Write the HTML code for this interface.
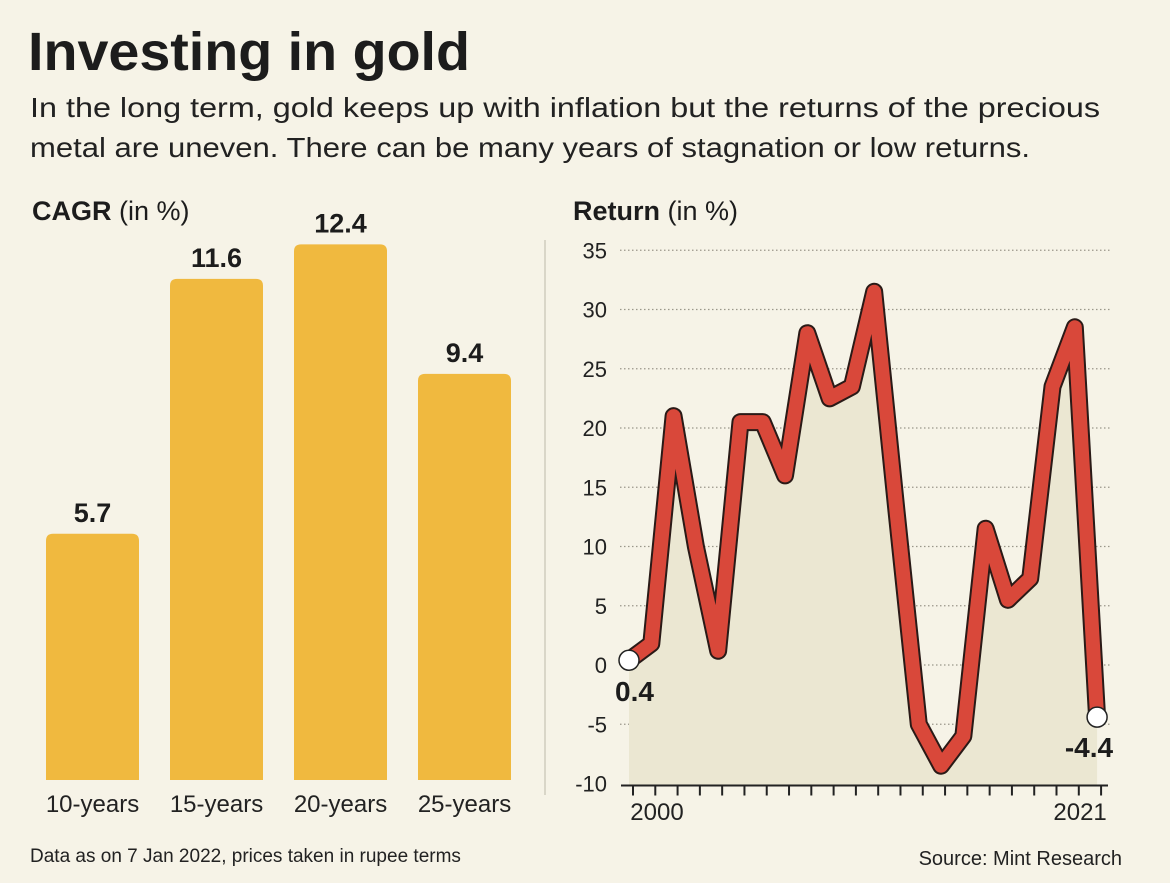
<!DOCTYPE html>
<html><head><meta charset="utf-8"><style>
html,body{margin:0;padding:0;background:#f6f3e7;}
svg{display:block;font-family:"Liberation Sans",sans-serif;}
</style></head><body>
<svg id="chart" width="1170" height="883" viewBox="0 0 1170 883" xmlns="http://www.w3.org/2000/svg">
<rect x="0" y="0" width="1170" height="883" fill="#f6f3e7"/>
<text x="28" y="70" font-size="54" font-weight="bold" fill="#1c1c1c" textLength="442" lengthAdjust="spacingAndGlyphs">Investing in gold</text>
<text x="30" y="117" font-size="28" fill="#222" textLength="1070" lengthAdjust="spacingAndGlyphs">In the long term, gold keeps up with inflation but the returns of the precious</text>
<text x="30" y="157" font-size="28" fill="#222" textLength="1000" lengthAdjust="spacingAndGlyphs">metal are uneven. There can be many years of stagnation or low returns.</text>
<text x="32" y="220" font-size="27" fill="#1c1c1c"><tspan font-weight="bold">CAGR</tspan> (in %)</text>
<text x="573" y="220" font-size="27" fill="#1c1c1c"><tspan font-weight="bold">Return</tspan> (in %)</text>
<line x1="545" y1="240" x2="545" y2="795" stroke="#d9d6c8" stroke-width="2"/>
<g id="bars"></g>
<g id="line"></g>
<text x="30" y="862" font-size="19" fill="#222">Data as on 7 Jan 2022, prices taken in rupee terms</text>
<text x="1122" y="865" font-size="20" fill="#222" text-anchor="end">Source: Mint Research</text>
</svg>
<script>
const barCats = ["10-years","15-years","20-years","25-years"];
const barVals = [5.7, 11.6, 12.4, 9.4];
const years = [2000,2001,2002,2003,2004,2005,2006,2007,2008,2009,2010,2011,2012,2013,2014,2015,2016,2017,2018,2019,2020,2021];
const returns = [0.4,1.8,21,10,1.2,20.5,20.5,16,28,22.5,23.5,31.5,13,-5,-8.5,-6,11.5,5.5,7.3,23.5,28.5,-4.4];
const yTicks = [35,30,25,20,15,10,5,0,-5,-10];
const xLabelYears = [2000,2021];

const NS="http://www.w3.org/2000/svg";
function mk(tag, attrs, parent, text){const e=document.createElementNS(NS,tag);for(const k in attrs)e.setAttribute(k,attrs[k]);if(text!==undefined)e.textContent=text;parent.appendChild(e);return e;}

// bar chart
const bg=document.getElementById('bars');
const barBase=780, barScale=43.2, barW=93, barX0=46, barStep=124;
const bx=i=>barX0+i*barStep;
const by=v=>barBase-v*barScale;
barCats.forEach((c,i)=>{
  const r=mk('path',{d:`M${bx(i)},${barBase} V${by(barVals[i])+7} Q${bx(i)},${by(barVals[i])} ${bx(i)+7},${by(barVals[i])} H${bx(i)+barW-7} Q${bx(i)+barW},${by(barVals[i])} ${bx(i)+barW},${by(barVals[i])+7} V${barBase} Z`,fill:'#f0b93f'},bg);
  
  
  const t=mk('text',{x:bx(i)+barW/2,y:by(barVals[i])-12,'font-size':27,'font-weight':'bold','text-anchor':'middle',fill:'#1c1c1c'},bg,barVals[i].toFixed(1));
  
  
  const l=mk('text',{x:bx(i)+barW/2,y:812,'font-size':24,'text-anchor':'middle',fill:'#222'},bg,c);
  
  
});

// line chart
const lg=document.getElementById('line');
const X0=629, XS=22.29, Y0=665, YS=11.85;
const lx=yr=>X0+(yr-years[0])*XS;
const ly=v=>Y0-v*YS;
const axisY=ly(-10)+2;
yTicks.forEach(v=>{
  if(v>-10){const g=mk('line',{x1:620,x2:1110,y1:ly(v),y2:ly(v),stroke:'#9a978a','stroke-width':1.2,'stroke-dasharray':'1.5 2.5'},lg);
  
  }
  const t=mk('text',{x:607,y:ly(v)+8,'font-size':22,'text-anchor':'end',fill:'#222'},lg,String(v));
  
  
});
let area=`M${lx(years[0])},${axisY}`;
years.forEach((y,i)=>area+=` L${lx(y)},${ly(returns[i])}`);
area+=` L${lx(years[years.length-1])},${axisY} Z`;
const a=mk('path',{d:area,fill:'#ebe7d2'},lg);


const ax=mk('line',{x1:621,x2:1108,y1:axisY,y2:axisY,stroke:'#222','stroke-width':2},lg);


years.forEach(y=>{
  const tk=mk('line',{x1:lx(y)+4,x2:lx(y)+4,y1:axisY,y2:axisY+10,stroke:'#222','stroke-width':2},lg);
  
  
});
xLabelYears.forEach(y=>{
  const t=mk('text',{x:lx(y)+(y===years[0]?28:-17),y:820,'font-size':24,'text-anchor':'middle',fill:'#222'},lg,String(y));
  
  
});
const pts=years.map((y,i)=>`${lx(y)},${ly(returns[i])}`).join(' ');
const o=mk('polyline',{points:pts,fill:'none',stroke:'#2a1a17','stroke-width':18,'stroke-linejoin':'round','stroke-linecap':'round'},lg);


const ln=mk('polyline',{points:pts,fill:'none',stroke:'#d9483a','stroke-width':14,'stroke-linejoin':'round','stroke-linecap':'round'},lg);


[[0,-14,701,'start'],[years.length-1,16,757,'end']].forEach(([i,dx,ty,anc])=>{
  const c=mk('circle',{cx:lx(years[i]),cy:ly(returns[i]),r:10,fill:'#fff',stroke:'#222','stroke-width':1.5},lg);
  
  
  const t=mk('text',{x:lx(years[i])+dx,y:ty,'font-size':28,'font-weight':'bold','text-anchor':anc,fill:'#1c1c1c'},lg,returns[i].toFixed(1));
  
  
});
</script>
</body></html>
